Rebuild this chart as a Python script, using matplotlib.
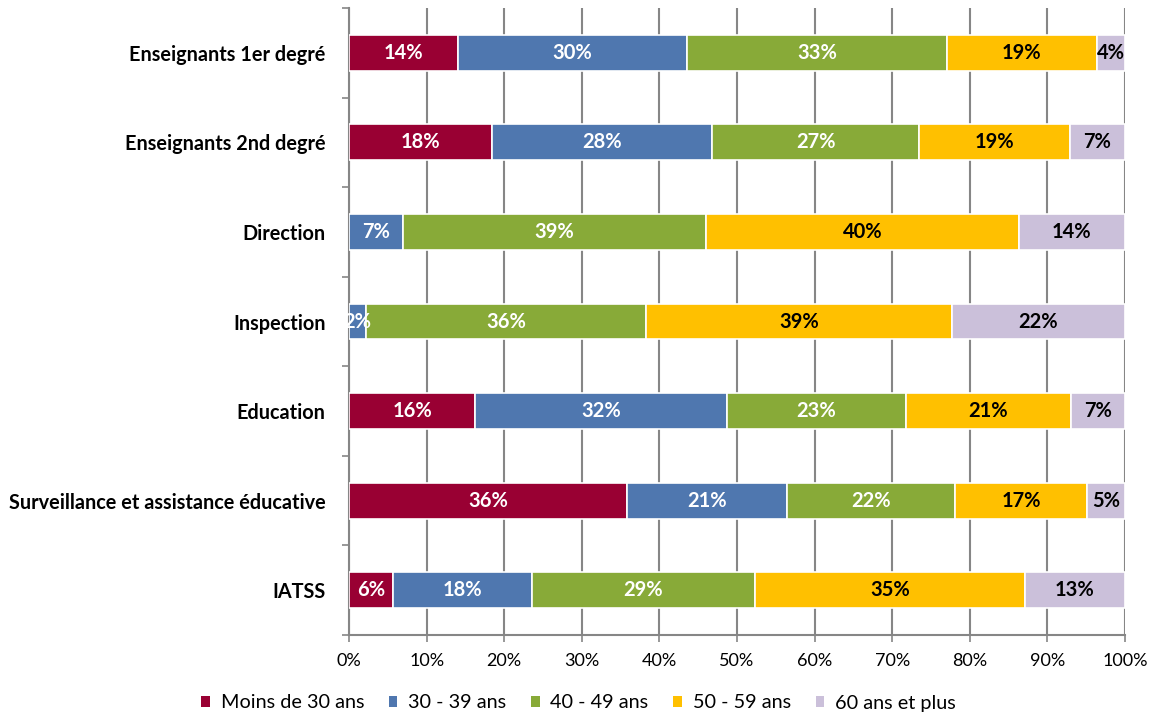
import matplotlib
matplotlib.use('Agg')
import matplotlib.pyplot as plt
import numpy as np
from matplotlib.patches import Patch

plt.rcParams['font.family'] = ['Lato', 'DejaVu Sans']

categories = ['Enseignants 1er degré', 'Enseignants 2nd degré', 'Direction', 'Inspection',
              'Education', 'Surveillance et assistance éducative', 'IATSS']
series = ['Moins de 30 ans', '30 - 39 ans', '40 - 49 ans', '50 - 59 ans', '60 ans et plus']

# parts in %
moins_30 = [14.0, 18.4, 0.0, 0.0, 16.3, 35.8, 5.7]
ans_30_39 = [29.6, 28.4, 7.0, 2.2, 32.4, 20.6, 17.9]
ans_40_49 = [33.4, 26.7, 39.0, 36.1, 23.1, 21.7, 28.7]
ans_50_59 = [19.4, 19.4, 40.3, 39.4, 21.2, 17.0, 34.8]
plus_60 = [3.6, 7.1, 13.7, 22.3, 7.0, 4.9, 12.9]

colors = ['#990033', '#4F77AF', '#88AA38', '#FFC000', '#CBC0DA']
text_colors = ['white', 'white', 'white', 'black', 'black']

fig = plt.figure(figsize=(11.57, 7.16), dpi=100)
ax = fig.add_axes([349/1157, 1 - 635/716, (1125 - 349)/1157, (635 - 8)/716])

data = np.array([moins_30, ans_30_39, ans_40_49, ans_50_59, plus_60]) / 100.0
y = np.arange(len(categories))
left = np.zeros(len(categories))
for i in range(len(series)):
    ax.barh(y, data[i], left=left, height=0.4, color=colors[i], edgecolor='white',
            linewidth=1.2, zorder=3)
    for j in range(len(categories)):
        v = data[i][j]
        if v > 0:
            ax.text(left[j] + v / 2, y[j], '%d%%' % round(v * 100), ha='center', va='center',
                    color=text_colors[i], fontsize=14.5, fontweight='bold', zorder=4)
    left = left + data[i]

ax.set_xlim(0, 1)
ax.set_ylim(len(categories) - 0.5, -0.5)
ax.set_xticks(np.arange(0, 1.01, 0.1))
ax.set_xticklabels(['%d%%' % p for p in range(0, 101, 10)], fontsize=13)
ax.xaxis.grid(True, color='#868686', linewidth=1.5, zorder=0)

ax.set_yticks(np.arange(-0.5, len(categories), 1))
ax.set_yticklabels([])
ax.set_yticks(y, minor=True)
ax.set_yticklabels(categories, minor=True, fontsize=14.3, fontweight='bold')
ax.tick_params(axis='y', which='minor', length=0, pad=17)
ax.tick_params(axis='y', which='major', length=5, color='#868686', width=1.2)
ax.tick_params(axis='x', length=5, color='#868686', width=1.2, pad=8)

for s in ['top', 'right']:
    ax.spines[s].set_visible(False)
for s in ['left', 'bottom']:
    ax.spines[s].set_color('#868686')
    ax.spines[s].set_linewidth(1.5)

handles = [Patch(facecolor=c, edgecolor='none') for c in colors]
fig.legend(handles, series, loc='center', bbox_to_anchor=(0.5, 1 - 703/716), ncol=5,
           frameon=False, fontsize=14.3, handlelength=0.42, handleheight=0.42,
           handletextpad=0.55, columnspacing=1.25)

fig.savefig('out.png', dpi=100)
